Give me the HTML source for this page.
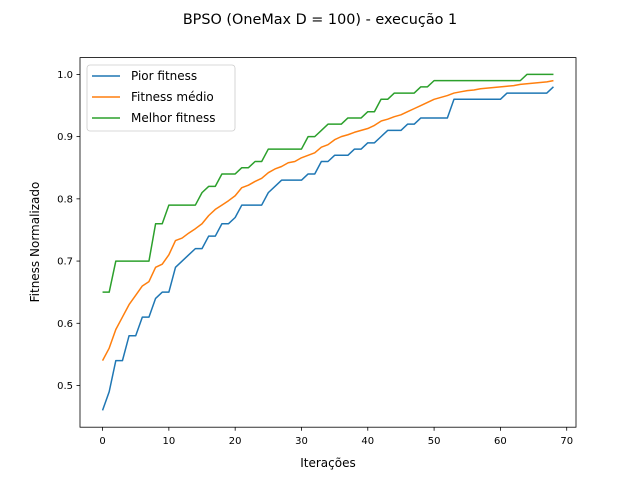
<!DOCTYPE html>
<html><head><meta charset="utf-8"><style>
body{margin:0;background:#fff;font-family:"Liberation Sans","DejaVu Sans",sans-serif}
</style></head><body>
<svg id="chart" width="640" height="480" xmlns="http://www.w3.org/2000/svg" font-family="DejaVu Sans, Liberation Sans, sans-serif">
<rect width="640" height="480" fill="#fff"/>
<text x="320" y="24" text-anchor="middle" font-size="14.4">BPSO (OneMax D = 100) - execução 1</text>
<g id="plot"></g>
<text x="328" y="467" text-anchor="middle" font-size="12">Iterações</text>
<text transform="translate(39,242) rotate(-90)" text-anchor="middle" font-size="12">Fitness Normalizado</text>
</svg>
<script>
const worst=[0.46,0.49,0.54,0.54,0.58,0.58,0.61,0.61,0.64,0.65,0.65,0.69,0.70,0.71,0.72,0.72,0.74,0.74,0.76,0.76,0.77,0.79,0.79,0.79,0.79,0.81,0.82,0.83,0.83,0.83,0.83,0.84,0.84,0.86,0.86,0.87,0.87,0.87,0.88,0.88,0.89,0.89,0.90,0.91,0.91,0.91,0.92,0.92,0.93,0.93,0.93,0.93,0.93,0.96,0.96,0.96,0.96,0.96,0.96,0.96,0.96,0.97,0.97,0.97,0.97,0.97,0.97,0.97,0.98];
const mean=[0.54,0.56,0.59,0.61,0.63,0.645,0.66,0.667,0.69,0.695,0.71,0.733,0.737,0.745,0.752,0.76,0.773,0.783,0.79,0.797,0.805,0.818,0.822,0.828,0.833,0.842,0.848,0.852,0.858,0.86,0.866,0.87,0.874,0.883,0.887,0.895,0.9,0.903,0.907,0.91,0.913,0.918,0.925,0.928,0.932,0.935,0.94,0.945,0.95,0.955,0.96,0.963,0.966,0.97,0.972,0.974,0.975,0.977,0.978,0.979,0.98,0.981,0.982,0.984,0.985,0.986,0.987,0.988,0.99];
const best=[0.65,0.65,0.70,0.70,0.70,0.70,0.70,0.70,0.76,0.76,0.79,0.79,0.79,0.79,0.79,0.81,0.82,0.82,0.84,0.84,0.84,0.85,0.85,0.86,0.86,0.88,0.88,0.88,0.88,0.88,0.88,0.90,0.90,0.91,0.92,0.92,0.92,0.93,0.93,0.93,0.94,0.94,0.96,0.96,0.97,0.97,0.97,0.97,0.98,0.98,0.99,0.99,0.99,0.99,0.99,0.99,0.99,0.99,0.99,0.99,0.99,0.99,0.99,0.99,1.0,1.0,1.0,1.0,1.0];
const xTicks=[0,10,20,30,40,50,60,70];
const yTicks=[0.5,0.6,0.7,0.8,0.9,1.0];
const seriesNames=["Pior fitness","Fitness médio","Melhor fitness"];
const colors=["#1f77b4","#ff7f0e","#2ca02c"];
const L=80,R=576,T=57.6,B=427.2;
const n=worst.length;
const allV=worst.concat(mean,best);
const vmin=Math.min(...allV),vmax=Math.max(...allV);
const xmin=-(n-1)*0.05,xmax=(n-1)*1.05;
const ymin=vmin-(vmax-vmin)*0.05,ymax=vmax+(vmax-vmin)*0.05;
const sx=v=>L+(v-xmin)/(xmax-xmin)*(R-L);
const sy=v=>B-(v-ymin)/(ymax-ymin)*(B-T);
const NS="http://www.w3.org/2000/svg";
const g=document.getElementById('plot');
function mk(tag,attrs,parent){const e=document.createElementNS(NS,tag);for(const k in attrs)e.setAttribute(k,attrs[k]);(parent||g).appendChild(e);return e;}
[worst,mean,best].forEach((s,i)=>{
  const p=mk('path',{d:s.map((v,j)=>(j?'L':'M')+sx(j).toFixed(2)+','+sy(v).toFixed(2)).join(''),fill:'none',stroke:colors[i],'stroke-width':1.5,'stroke-linejoin':'round'});
  
  
});
const fr=mk('rect',{x:L,y:T,width:R-L,height:B-T,fill:'none',stroke:'#000','stroke-width':0.8});


xTicks.forEach(t=>{const x=sx(t);mk('line',{x1:x,x2:x,y1:B,y2:B+3.5,stroke:'#000','stroke-width':0.8});
  const tx=mk('text',{x:x,y:B+17,'text-anchor':'middle','font-size':10});tx.textContent=t;
  
  });
yTicks.forEach(t=>{const y=sy(t);mk('line',{x1:L-3.5,x2:L,y1:y,y2:y,stroke:'#000','stroke-width':0.8});
  const tx=mk('text',{x:L-7,y:y+3.6,'text-anchor':'end','font-size':10});tx.textContent=t.toFixed(1);
  
  });
const lg=mk('g',{});


mk('rect',{x:87,y:65,width:148,height:66,rx:3,fill:'#fff','fill-opacity':0.8,stroke:'#ccc','stroke-width':0.8},lg);
seriesNames.forEach((nm,i)=>{const y=76+i*21;
  mk('line',{x1:92,x2:120,y1:y,y2:y,stroke:colors[i],'stroke-width':1.5},lg);
  const t=mk('text',{x:131,y:y+4,'font-size':12},lg);t.textContent=nm;
  
  });
</script>
</body></html>
